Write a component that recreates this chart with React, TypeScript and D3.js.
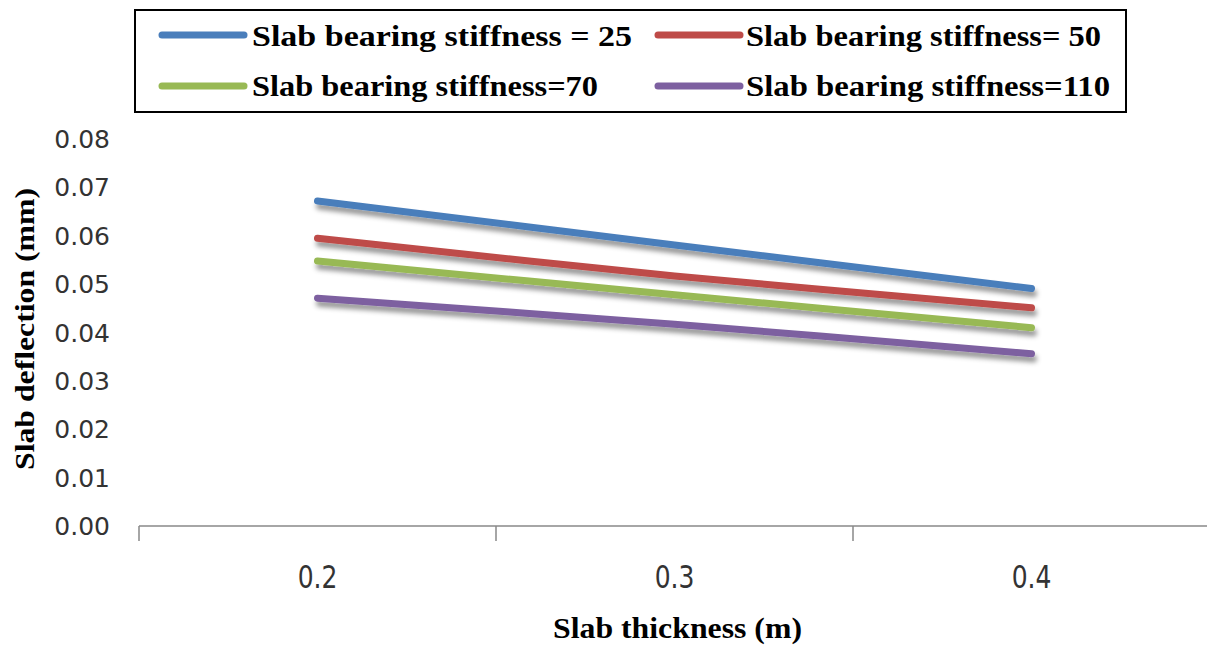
import React from "react";
import * as d3 from "d3";

const categories = ["0.2", "0.3", "0.4"];
const yTicks = [0, 0.01, 0.02, 0.03, 0.04, 0.05, 0.06, 0.07, 0.08];
const seriesNames = [
  "Slab bearing stiffness = 25",
  "Slab bearing stiffness= 50",
  "Slab bearing stiffness=70",
  "Slab bearing stiffness=110",
];
const stiffness25 = [0.0672, 0.0581, 0.0491];
const stiffness50 = [0.0595, 0.0517, 0.0451];
const stiffness70 = [0.0548, 0.0478, 0.041];
const stiffness110 = [0.0471, 0.0417, 0.0356];
const seriesValues = [stiffness25, stiffness50, stiffness70, stiffness110];
const colors = ["#4A7EBB", "#BE4B48", "#98B954", "#7D60A0"];

const W = 1207;
const H = 648;

export default function App() {
  const x = d3.scaleBand<string>().domain(categories).range([139, 1210]);
  const y = d3.scaleLinear().domain([0, 0.08]).range([526, 139]);
  const line = d3
    .line<number>()
    .x((_, i) => (x(categories[i]) as number) + x.bandwidth() / 2)
    .y((d) => y(d))
    .curve(d3.curveCatmullRom.alpha(0.5));

  const serif = "'Liberation Serif', 'Times New Roman', serif";
  const sans = "'DejaVu Sans', sans-serif";

  const legendItems = [
    { lx: 162, tx: 252, cy: 35, base: 46, tl: 380 },
    { lx: 658, tx: 746, cy: 35, base: 46, tl: 355 },
    { lx: 162, tx: 252, cy: 86, base: 96, tl: 346 },
    { lx: 658, tx: 746, cy: 86, base: 96, tl: 364 },
  ];

  const tickXs = [0, 1, 2, 3].map((i) => 139 + i * x.step());

  return (
    <svg
      width={W}
      height={H}
      style={{ position: "absolute", left: 0, top: 0, background: "#fff" }}
    >
      <defs>
        <filter id="shadow" x="-10%" y="-50%" width="120%" height="200%">
          <feDropShadow dx="2" dy="5" stdDeviation="2.5" floodColor="#000" floodOpacity="0.42" />
        </filter>
      </defs>
      <rect width={W} height={H} fill="#fff" />

      {/* Legend */}
      <rect x={135} y={10} width={991} height={102} fill="#fff" stroke="#000" strokeWidth={2} />
      {legendItems.map((it, i) => (
        <g key={i}>
          <line
            x1={it.lx}
            x2={it.lx + 82}
            y1={it.cy}
            y2={it.cy}
            stroke={colors[i]}
            strokeWidth={7}
            strokeLinecap="round"
          />
          <text
            x={it.tx}
            y={it.base}
            fontFamily={serif}
            fontWeight="bold"
            fontSize={30}
            textLength={it.tl}
            lengthAdjust="spacingAndGlyphs"
            fill="#000"
          >
            {seriesNames[i]}
          </text>
        </g>
      ))}

      {/* Y tick labels */}
      {yTicks.map((t) => (
        <text
          key={t}
          x={110}
          y={y(t)}
          dy="0.36em"
          textAnchor="end"
          fontFamily={sans}
          fontSize={25}
          fill="#333"
        >
          {t.toFixed(2)}
        </text>
      ))}

      {/* X axis */}
      <line x1={139} x2={W} y1={526} y2={526} stroke="#898989" strokeWidth={1.5} />
      {tickXs.map((tx, i) => (
        <line key={i} x1={tx} x2={tx} y1={526} y2={541} stroke="#898989" strokeWidth={1.5} />
      ))}
      {categories.map((c) => {
        const cx = (x(c) as number) + x.bandwidth() / 2;
        return (
          <text
            key={c}
            transform={`translate(${cx},588) scale(1,1.3)`}
            textAnchor="middle"
            fontFamily={sans}
            fontSize={25}
            fill="#333"
          >
            {c}
          </text>
        );
      })}

      {/* Series */}
      {seriesValues.map((vals, i) => (
        <path
          key={i}
          d={line(vals) as string}
          fill="none"
          stroke={colors[i]}
          strokeWidth={7}
          strokeLinecap="round"
          filter="url(#shadow)"
        />
      ))}

      {/* Axis titles */}
      <text
        x={553}
        y={638}
        fontFamily={serif}
        fontWeight="bold"
        fontSize={29}
        textLength={249}
        lengthAdjust="spacingAndGlyphs"
        fill="#000"
      >
        Slab thickness (m)
      </text>
      <text
        transform="translate(34,470) rotate(-90)"
        fontFamily={serif}
        fontWeight="bold"
        fontSize={27}
        textLength={282}
        lengthAdjust="spacingAndGlyphs"
        fill="#000"
      >
        Slab deflection (mm)
      </text>
    </svg>
  );
}
